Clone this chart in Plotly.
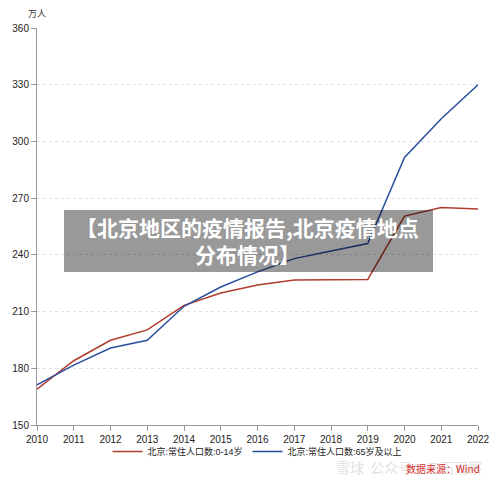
import plotly.graph_objects as go

years = [2010, 2011, 2012, 2013, 2014, 2015, 2016, 2017, 2018, 2019, 2020, 2021, 2022]
age_0_14 = [169.0, 184.0, 194.8, 200.3, 213.3, 219.8, 224.0, 226.7, 226.8, 227.0, 260.5, 265.0, 264.3]
age_65_plus = [171.3, 181.7, 190.7, 194.8, 212.8, 223.0, 231.0, 238.0, 242.0, 246.0, 291.5, 312.0, 330.0]
name_red = "北京:常住人口数:0-14岁"
name_blue = "北京:常住人口数:65岁及以上"
y_ticks = [150, 180, 210, 240, 270, 300, 330, 360]

FONT = "Liberation Sans, Arial, Noto Sans CJK SC, sans-serif"

fig = go.Figure()
fig.add_trace(go.Scatter(x=years, y=age_0_14, mode="lines", name=name_red,
                         line=dict(color="#b03c2c", width=1.5)))
fig.add_trace(go.Scatter(x=years, y=age_65_plus, mode="lines", name=name_blue,
                         line=dict(color="#2b4f9e", width=1.5)))

# page body has an 8px margin, so the figure is drawn 8px smaller and offset
fig.update_layout(
    width=492, height=476,
    margin=dict(l=29, r=22, t=20, b=59, autoexpand=False),
    paper_bgcolor="white", plot_bgcolor="white",
    font=dict(family=FONT, size=10, color="#222"),
    showlegend=True,
    legend=dict(orientation="h", x=0.5, xanchor="center", y=-0.03, yanchor="top",
                font=dict(size=9, color="#222"), itemwidth=30, tracegroupgap=0,
                bgcolor="rgba(0,0,0,0)"),
    xaxis=dict(range=[2010, 2022], tickmode="array", tickvals=years,
               ticktext=[str(y) for y in years], showgrid=False, zeroline=False,
               showline=True, linecolor="#999", linewidth=1, automargin=False,
               ticks="outside", ticklen=5, tickcolor="#999",
               tickfont=dict(size=10, color="#222")),
    yaxis=dict(range=[150, 360], tickmode="array", tickvals=y_ticks,
               showgrid=True, gridcolor="#e0e0e0", griddash="dot", gridwidth=1,
               zeroline=False, showline=True, linecolor="#999", linewidth=1, automargin=False,
               ticks="outside", ticklen=5, tickcolor="#999",
               tickfont=dict(size=10, color="#222")),
)

fig.add_annotation(text="万人", xref="paper", yref="paper", x=0.0, y=1.0, yshift=6,
                   xanchor="center", yanchor="bottom", showarrow=False,
                   font=dict(size=9, color="#333", family="Noto Sans CJK SC"))

# overlay title box
fig.add_shape(type="rect", xref="paper", yref="paper",
              x0=(64 - 37) / 441, x1=(433 - 37) / 441,
              y0=(425 - 272) / 397, y1=(425 - 210) / 397,
              fillcolor="rgba(0,0,0,0.4)", line=dict(width=0), layer="above")
fig.add_annotation(text="<b>【北京地区的疫情报告,北京疫情地点<br>分布情况】</b>",
                   xref="paper", yref="paper", x=(247 - 37) / 441, y=(425 - 240) / 397,
                   xanchor="center", yanchor="middle", showarrow=False, align="center",
                   font=dict(size=21, color="white", family="Noto Sans CJK SC"))

# watermark
fig.add_annotation(text="雪球  公众号：三石观察", xref="paper", yref="paper",
                   x=(484 - 37) / 441, y=-(467 - 425) / 397, xanchor="right", yanchor="middle",
                   showarrow=False, font=dict(size=14, color="rgba(150,150,150,0.3)",
                                              family="Noto Sans CJK SC"))
fig.add_annotation(text="数据来源：Wind", xref="paper", yref="paper",
                   x=(482 - 37) / 441, y=-(468 - 425) / 397, xanchor="right", yanchor="middle",
                   showarrow=False, font=dict(size=10, color="#d42b2b", family="Noto Sans CJK SC"))

fig.write_html("out.html")
